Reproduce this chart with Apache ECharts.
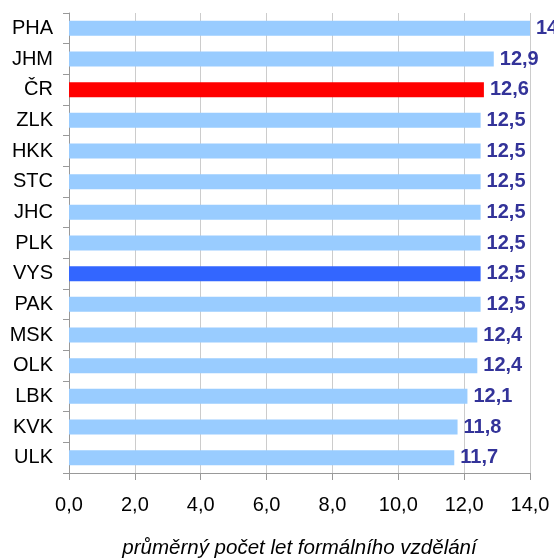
<!DOCTYPE html>
<html>
<head>
<meta charset="utf-8">
<script src="https://cdn.jsdelivr.net/npm/echarts@6/dist/echarts.min.js"></script>
<style>html,body{margin:0;padding:0;background:#fff}#c{width:554px;height:558px}</style>
</head>
<body>
<div id="c"></div>
<script>
const categories = ['PHA','JHM','ČR','ZLK','HKK','STC','JHC','PLK','VYS','PAK','MSK','OLK','LBK','KVK','ULK'];
const values = [14.0,12.9,12.6,12.5,12.5,12.5,12.5,12.5,12.5,12.5,12.4,12.4,12.1,11.8,11.7];
const xTicks = [0,2,4,6,8,10,12,14];
const axisTitle = 'průměrný počet let formálního vzdělání';
const highlight = {'ČR':'#FF0000','VYS':'#3366FF'};
const baseColor = '#99CCFF';

const font = '"Liberation Sans", Arial, sans-serif';
const chart = echarts.init(document.getElementById('c'), null, {renderer:'canvas'});
chart.setOption({
  animation:false,
  grid:{left:69,right:24,top:13,bottom:85,containLabel:false,outerBoundsMode:'none'},
  xAxis:{
    type:'value', min:xTicks[0], max:xTicks[xTicks.length-1], interval:2,
    name:axisTitle, nameLocation:'middle', nameGap:65,
    nameTextStyle:{fontFamily:font,fontSize:20.5,fontStyle:'italic',color:'#000'},
    axisLine:{show:true,lineStyle:{color:'#999',width:1}},
    axisTick:{show:true,length:7,lineStyle:{color:'#999'}},
    axisLabel:{fontFamily:font,fontSize:20,color:'#000',margin:22,
      formatter:v=>v.toFixed(1).replace('.',',')},
    splitLine:{show:true,lineStyle:{color:'#ccc',width:1}}
  },
  yAxis:{
    type:'category', data:categories, inverse:true,
    axisLine:{show:true,lineStyle:{color:'#999',width:1}},
    axisTick:{show:true,length:6,lineStyle:{color:'#999'}},
    axisLabel:{fontFamily:font,fontSize:20,color:'#000',margin:16},
    splitLine:{show:false}
  },
  series:[{
    type:'bar', barWidth:15,
    data:values.map((v,i)=>({value:v,itemStyle:{color:highlight[categories[i]]||baseColor}})),
    label:{show:true,position:'right',distance:6,fontFamily:font,fontSize:20,fontWeight:'bold',color:'#333399',
      formatter:p=>p.value.toFixed(1).replace('.',',')}
  }]
});
</script>
</body>
</html>
